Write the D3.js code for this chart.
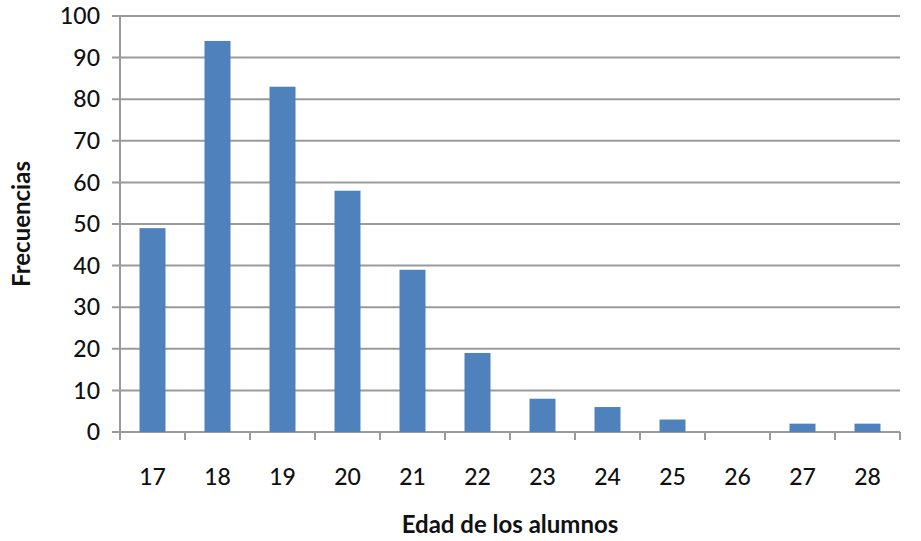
<!DOCTYPE html>
<html><head><meta charset="utf-8">
<script src="https://cdn.jsdelivr.net/npm/d3@7"></script>
<style>body{margin:0;background:#fff}</style>
</head><body>
<script>
const categories = ["17","18","19","20","21","22","23","24","25","26","27","28"];
const values = [49,94,83,58,39,19,8,6,3,0,2,2];
const yTicks = [0,10,20,30,40,50,60,70,80,90,100];
const yTitle = "Frecuencias";
const xTitle = "Edad de los alumnos";

const W = 921, H = 541;
const m = {left:120, right:21, top:16, bottom:109};
const svg = d3.select("body").append("svg").attr("width",W).attr("height",H);
const x = d3.scaleBand().domain(categories).range([m.left, W-m.right]).paddingInner(0.6).paddingOuter(0.3);
const xe = d3.scaleBand().domain(categories).range([m.left, W-m.right]);
const y = d3.scaleLinear().domain([0,100]).range([H-m.bottom, m.top]);
const font = "Lato, 'Open Sans', sans-serif";
const grid = "#9a9a9a";

svg.append("g").selectAll("line").data(yTicks).join("line")
  .attr("x1", m.left-8).attr("x2", W-m.right)
  .attr("y1", d=>y(d)).attr("y2", d=>y(d))
  .attr("stroke", grid).attr("stroke-width", 2);

svg.append("line").attr("x1",m.left).attr("x2",m.left)
  .attr("y1",y(100)).attr("y2",y(0)+8).attr("stroke",grid).attr("stroke-width",2);

const edges = categories.map(c=>xe(c)).concat([W-m.right]);
svg.append("g").selectAll("line").data(edges).join("line")
  .attr("x1",d=>d).attr("x2",d=>d).attr("y1",y(0)).attr("y2",y(0)+8)
  .attr("stroke",grid).attr("stroke-width",2);

svg.append("g").selectAll("rect").data(values).join("rect")
  .attr("x",(d,i)=>x(categories[i])).attr("width",x.bandwidth())
  .attr("y",d=>y(d)).attr("height",d=>y(0)-y(d))
  .attr("fill","#4F81BD");

svg.append("g").selectAll("text").data(yTicks).join("text")
  .attr("x", m.left-20).attr("y", d=>y(d)).attr("dy","0.36em")
  .attr("text-anchor","end").attr("font-family",font).attr("font-size",23)
  .attr("font-weight",500).attr("fill","#111").text(d=>d);

svg.append("g").selectAll("text").data(categories).join("text")
  .attr("x", d=>xe(d)+xe.bandwidth()/2).attr("y", 477).attr("dy","0.36em")
  .attr("text-anchor","middle").attr("font-family",font).attr("font-size",23)
  .attr("font-weight",500).attr("fill","#111").text(d=>d);

svg.append("text").attr("transform",`translate(22,${(y(0)+y(100))/2}) rotate(-90)`)
  .attr("text-anchor","middle").attr("dy","0.35em").attr("font-family",font)
  .attr("font-weight","bold").attr("font-size",24).attr("fill","#111").text(yTitle);
svg.append("text").attr("x",(m.left+W-m.right)/2).attr("y",525).attr("dy","0.35em")
  .attr("text-anchor","middle").attr("font-family",font)
  .attr("font-weight","bold").attr("font-size",24).attr("fill","#111").text(xTitle);
</script>
</body></html>
